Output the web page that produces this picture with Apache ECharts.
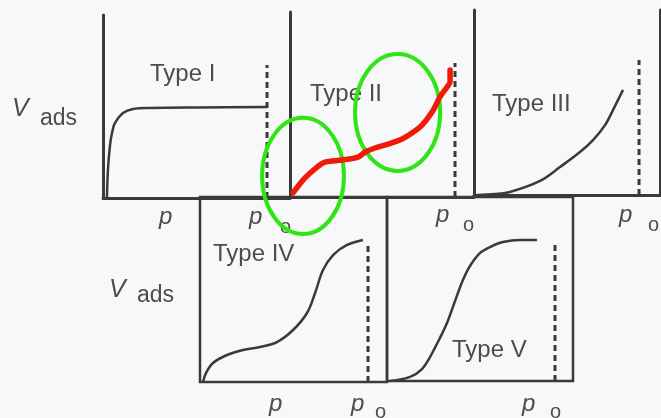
<!DOCTYPE html>
<html>
<head>
<meta charset="utf-8">
<script src="https://cdn.jsdelivr.net/npm/echarts@6/dist/echarts.min.js"></script>
<style>
  html, body { margin: 0; padding: 0; background: #f7f8f9; }
  #chart { width: 661px; height: 418px; }
</style>
</head>
<body>
<div id="chart"></div>
<script>
// relative pressure p/p0 (x) and adsorbed volume (y, fraction of panel height)
const typeI_p = [0.024, 0.030, 0.043, 0.055, 0.073, 0.122, 0.183, 0.287, 0.591, 1.0];
const typeI_v = [0, 0.153, 0.290, 0.355, 0.410, 0.464, 0.486, 0.492, 0.495, 0.497];

// type II, traced over in red
const typeII_p = [0.018, 0.091, 0.164, 0.212, 0.315, 0.412, 0.455, 0.515, 0.594, 0.679, 0.739, 0.800, 0.861, 0.909, 0.952, 0.970, 0.970];
const typeII_v = [0.022, 0.103, 0.162, 0.189, 0.200, 0.216, 0.243, 0.265, 0.286, 0.314, 0.346, 0.389, 0.459, 0.541, 0.595, 0.622, 0.686];

const typeIII_p = [0.018, 0.127, 0.218, 0.400, 0.521, 0.642, 0.721, 0.794, 0.842, 0.903];
const typeIII_v = [0, 0.005, 0.016, 0.076, 0.151, 0.232, 0.297, 0.378, 0.459, 0.568];

const typeIV_p = [0.018, 0.036, 0.077, 0.161, 0.256, 0.357, 0.458, 0.554, 0.637, 0.685, 0.732, 0.792, 0.875, 0.970];
const typeIV_v = [0, 0.049, 0.103, 0.146, 0.173, 0.189, 0.216, 0.281, 0.373, 0.481, 0.605, 0.686, 0.741, 0.768];

const typeV_p = [0.018, 0.137, 0.208, 0.256, 0.315, 0.357, 0.405, 0.452, 0.494, 0.554, 0.613, 0.690, 0.792, 0.893];
const typeV_v = [0, 0.022, 0.065, 0.130, 0.234, 0.315, 0.435, 0.549, 0.625, 0.696, 0.728, 0.755, 0.766, 0.766];

// height reached by each dashed p0 line
const p0Tops = [0.727, 0.724, 0.73, 0.751, 0.739];

// green ellipses on the type II panel: [cx, cy, rx, ry]
const ellipses = [[0.079, 0.114, 0.248, 0.314], [0.652, 0.457, 0.258, 0.316]];

const ink = '#3a3a3a';
const textInk = '#4c4c4c';
const fontFam = "'Liberation Sans', Arial, sans-serif";

const panels = [
  { left: 103, top: 15, width: 187, height: 183, xMax: 1.140, box: false },
  { left: 290, top: 12, width: 184, height: 185, xMax: 1.115, box: false },
  { left: 474, top: 10, width: 186, height: 185, xMax: 1.127, box: false },
  { left: 200, top: 197, width: 187, height: 185, xMax: 1.113, box: true },
  { left: 387, top: 197, width: 186, height: 184, xMax: 1.107, box: true }
];

const zip = (xs, ys) => xs.map((x, i) => [x, ys[i]]);

const grids = panels.map(p => ({
  left: p.left, top: p.top, width: p.width, height: p.height,
  show: p.box, borderColor: ink, borderWidth: 2.5, backgroundColor: 'transparent'
}));

const hiddenBits = {
  axisTick: { show: false },
  axisLabel: { show: false },
  splitLine: { show: false }
};

const xAxes = panels.map((p, i) => ({
  type: 'value', gridIndex: i, min: 0, max: p.xMax,
  axisLine: { show: !p.box, lineStyle: { color: ink, width: 3 } },
  ...hiddenBits
}));

const yAxes = [];
panels.forEach((p, i) => {
  yAxes.push({
    type: 'value', gridIndex: i, min: 0, max: 1,
    axisLine: { show: !p.box, lineStyle: { color: ink, width: 3 } },
    ...hiddenBits
  });
});
// right edge of the type III panel
yAxes.push({
  type: 'value', gridIndex: 2, min: 0, max: 1, position: 'right',
  axisLine: { show: true, onZero: false, lineStyle: { color: ink, width: 3 } },
  ...hiddenBits
});

const curve = (idx, data, extra) => Object.assign({
  type: 'line', xAxisIndex: idx, yAxisIndex: idx, data: data,
  showSymbol: false, smooth: 0.35, silent: true,
  lineStyle: { color: ink, width: 2.5 }
}, extra || {});

const series = [
  curve(0, zip(typeI_p, typeI_v)),
  curve(2, zip(typeIII_p, typeIII_v)),
  curve(3, zip(typeIV_p, typeIV_v)),
  curve(4, zip(typeV_p, typeV_v))
];

p0Tops.forEach((t, i) => {
  series.push(curve(i, [[1, 0], [1, t]], {
    smooth: false,
    lineStyle: { color: ink, width: 3, type: [6, 4] }
  }));
});

series.push({
  type: 'custom', xAxisIndex: 1, yAxisIndex: 1, data: ellipses, silent: true, z: 5,
  renderItem: (params, api) => {
    const c = api.coord([api.value(0), api.value(1)]);
    const s = api.size([api.value(2), api.value(3)]);
    return {
      type: 'ellipse',
      shape: { cx: c[0], cy: c[1], rx: s[0], ry: s[1] },
      style: { fill: 'none', stroke: '#2ee614', lineWidth: 4 }
    };
  }
});

series.push(curve(1, zip(typeII_p, typeII_v), {
  z: 6, smooth: 0.3,
  lineStyle: { color: '#f01a0a', width: 5.5, cap: 'round', join: 'round' }
}));

const txt = (x, y, text, size, italic) => ({
  type: 'text', x: x, y: y, silent: true,
  style: {
    text: text, fill: textInk,
    font: (italic ? 'italic ' : '') + size + 'px ' + fontFam,
    textAlign: 'left', textVerticalAlign: 'middle'
  }
});

const labels = [
  txt(12, 109, 'V', 25, true), txt(40, 119, 'ads', 23),
  txt(109, 290, 'V', 25, true), txt(137, 296, 'ads', 23),
  txt(150, 74, 'Type I', 24), txt(310, 94, 'Type II', 24),
  txt(492, 104, 'Type III', 24), txt(213, 254, 'Type IV', 24),
  txt(452, 350, 'Type V', 24),
  txt(159, 217, 'p', 24, true),
  txt(249, 217, 'p', 24, true), txt(280, 227, 'o', 20),
  txt(436, 215, 'p', 24, true), txt(463, 225, 'o', 20),
  txt(619, 215, 'p', 24, true), txt(648, 225, 'o', 20),
  txt(269, 404, 'p', 24, true),
  txt(351, 404, 'p', 24, true), txt(375, 412, 'o', 20),
  txt(522, 404, 'p', 24, true), txt(550, 412, 'o', 20)
];

const chart = echarts.init(document.getElementById('chart'), null, { renderer: 'canvas' });
chart.setOption({
  backgroundColor: '#f7f8f9',
  animation: false,
  grid: grids,
  xAxis: xAxes,
  yAxis: yAxes,
  series: series,
  graphic: labels
});
</script>
</body>
</html>
